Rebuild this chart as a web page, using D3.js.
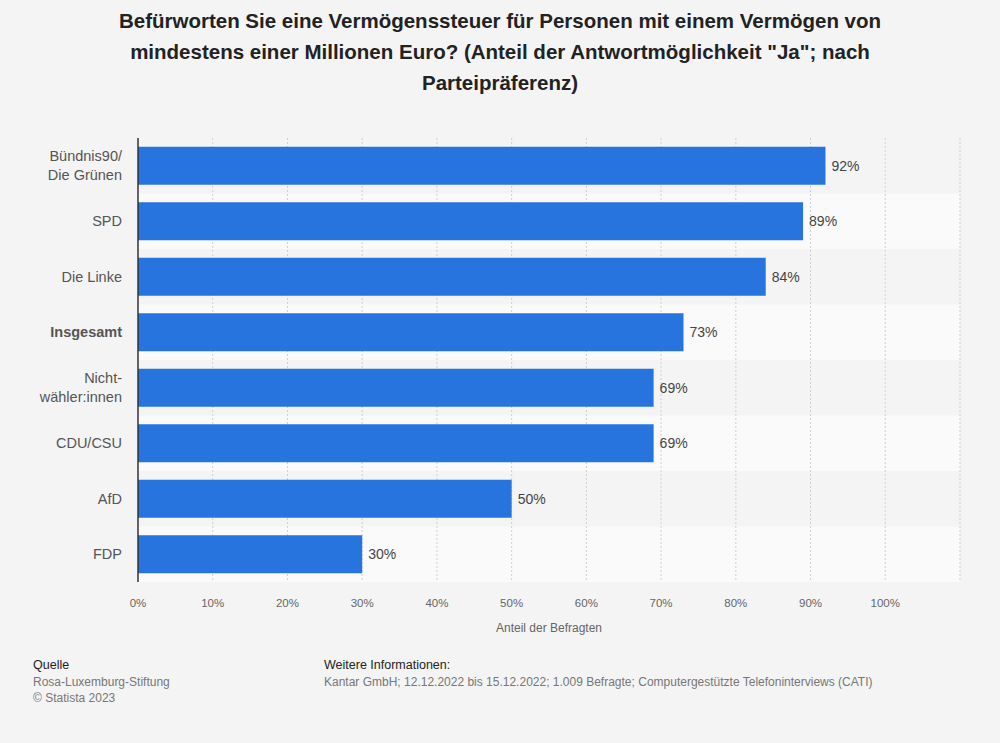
<!DOCTYPE html>
<html><head><meta charset="utf-8">
<script src="https://cdn.jsdelivr.net/npm/d3@7"></script>
<style>body{margin:0;background:#f4f4f4;font-family:"Liberation Sans",Arial,sans-serif}</style>
</head><body><svg id="c" width="1000" height="743"></svg>
<script>
// data
var parties = ["Bündnis90/\nDie Grünen", "SPD", "Die Linke", "Insgesamt", "Nicht-\nwähler:innen", "CDU/CSU", "AfD", "FDP"];
var values = [92, 89, 84, 73, 69, 69, 50, 30];
var ticks = [0, 10, 20, 30, 40, 50, 60, 70, 80, 90, 100];

var svg = d3.select("#c");
var x = d3.scaleLinear().domain([0, 110]).range([138, 960]);
var y = d3.scaleBand().domain(d3.range(parties.length)).range([138, 582]).paddingInner(0).paddingOuter(0);

// title
var title = ["Befürworten Sie eine Vermögenssteuer für Personen mit einem Vermögen von",
  "mindestens einer Millionen Euro? (Anteil der Antwortmöglichkeit \"Ja\"; nach",
  "Parteipräferenz)"];
svg.selectAll(".t").data(title).enter().append("text")
  .attr("x", 500).attr("y", function(d, i) { return 28 + i * 31; })
  .attr("text-anchor", "middle").attr("font-size", 20.5).attr("font-weight", "bold")
  .attr("fill", "#222").text(function(d) { return d; });

// row stripes
svg.selectAll(".row").data(parties).enter().append("rect")
  .attr("x", 138).attr("width", 822)
  .attr("y", function(d, i) { return y(i); }).attr("height", y.bandwidth())
  .attr("fill", function(d, i) { return i % 2 ? "#fafafa" : "#f4f4f4"; });

// grid
svg.selectAll(".g").data(ticks.concat([110]).slice(1)).enter().append("line")
  .attr("x1", function(d) { return x(d); }).attr("x2", function(d) { return x(d); })
  .attr("y1", 138).attr("y2", 582)
  .attr("stroke", "#cfcfcf").attr("stroke-dasharray", "2,2");

// bars
var bh = 38;
svg.selectAll(".b").data(values).enter().append("rect")
  .attr("x", x(0)).attr("y", function(d, i) { return y(i) + (y.bandwidth() - bh) / 2; })
  .attr("width", function(d) { return x(d) - x(0); }).attr("height", bh)
  .attr("fill", "#2874df");

svg.selectAll(".v").data(values).enter().append("text")
  .attr("x", function(d) { return x(d) + 6; })
  .attr("y", function(d, i) { return y(i) + y.bandwidth() / 2 + 5; })
  .attr("font-size", 14).attr("fill", "#444").text(function(d) { return d + "%"; });

// axis line
svg.append("line").attr("x1", 138).attr("x2", 138).attr("y1", 138).attr("y2", 582)
  .attr("stroke", "#333").attr("stroke-width", 1.5);

// category labels
parties.forEach(function(p, i) {
  var lines = p.split("\n");
  var cy = y(i) + y.bandwidth() / 2;
  lines.forEach(function(l, j) {
    svg.append("text").attr("x", 122)
      .attr("y", cy + 5 + (j - (lines.length - 1) / 2) * 19)
      .attr("text-anchor", "end").attr("font-size", 14.5)
      .attr("font-weight", p === "Insgesamt" ? "bold" : "normal")
      .attr("fill", "#555").text(l);
  });
});

// x tick labels
svg.selectAll(".xl").data(ticks).enter().append("text")
  .attr("x", function(d) { return x(d); }).attr("y", 607)
  .attr("text-anchor", "middle").attr("font-size", 11.5).attr("fill", "#666")
  .text(function(d) { return d + "%"; });
svg.append("text").attr("x", x(55)).attr("y", 632).attr("text-anchor", "middle")
  .attr("font-size", 12).attr("fill", "#666").text("Anteil der Befragten");

// footer
svg.append("text").attr("x", 33).attr("y", 669).attr("font-size", 12.5).attr("fill", "#222").text("Quelle");
svg.append("text").attr("x", 33).attr("y", 686).attr("font-size", 12).attr("fill", "#777").text("Rosa-Luxemburg-Stiftung");
svg.append("text").attr("x", 33).attr("y", 702).attr("font-size", 12).attr("fill", "#777").text("© Statista 2023");
svg.append("text").attr("x", 324).attr("y", 669).attr("font-size", 12.5).attr("fill", "#222").text("Weitere Informationen:");
svg.append("text").attr("x", 324).attr("y", 686).attr("font-size", 12).attr("fill", "#777")
  .text("Kantar GmbH; 12.12.2022 bis 15.12.2022; 1.009 Befragte; Computergestützte Telefoninterviews (CATI)");
</script></body></html>
